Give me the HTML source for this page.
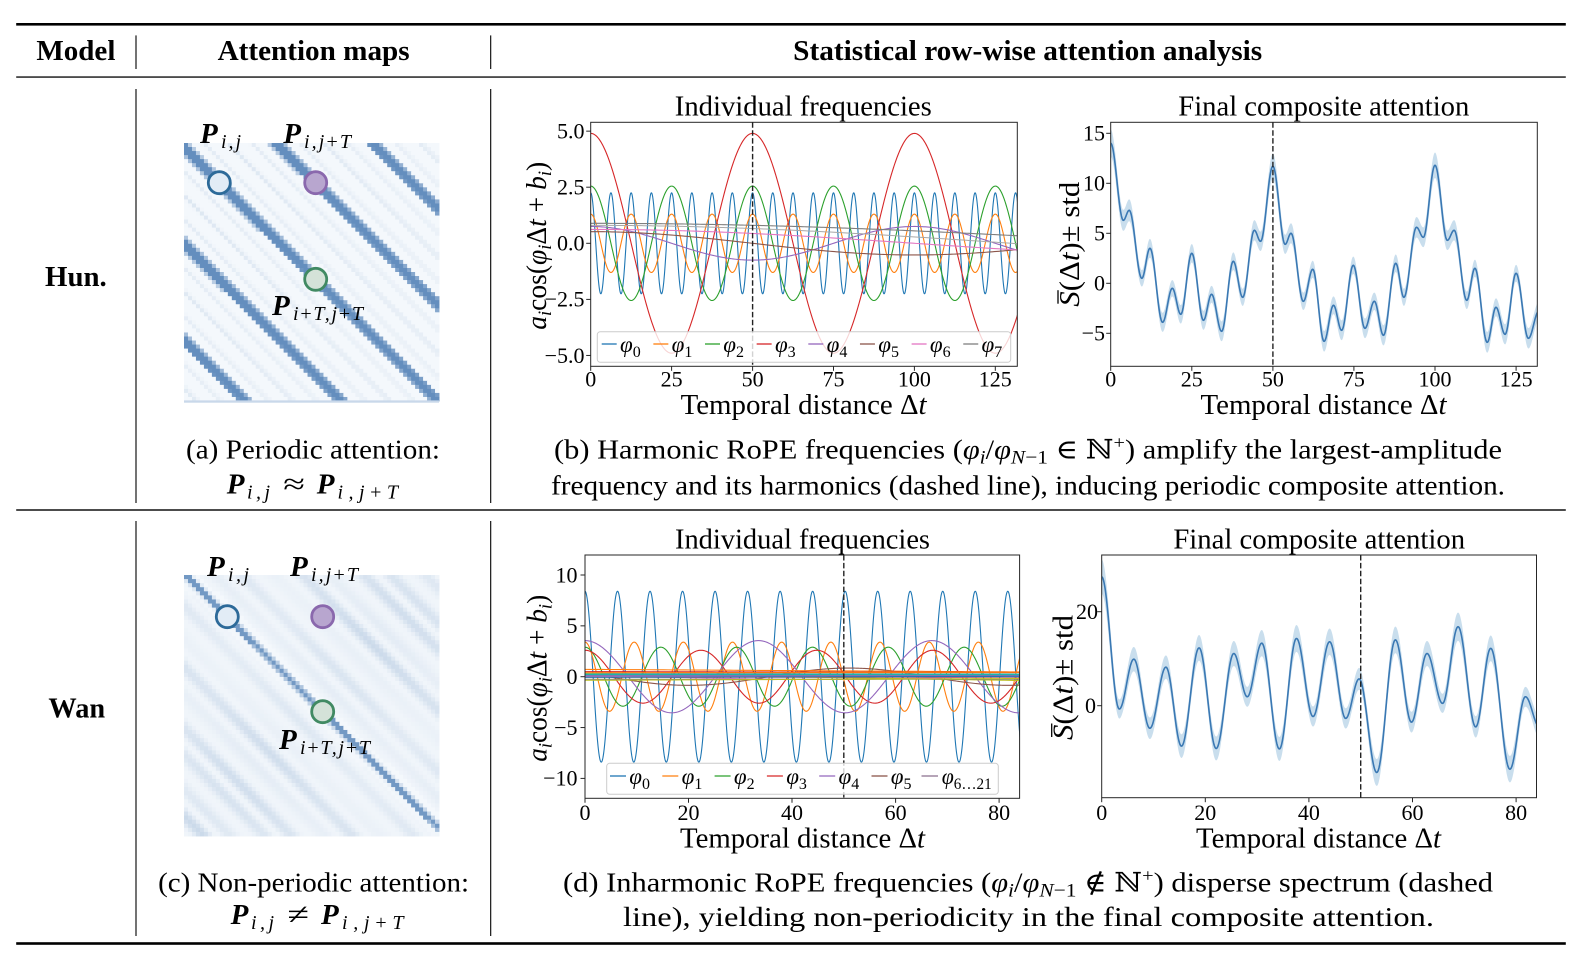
<!DOCTYPE html>
<html><head><meta charset="utf-8">
<style>
html,body{margin:0;padding:0;background:#fff;}
svg{display:block;}
text{font-family:"Liberation Serif","DejaVu Serif",serif;fill:#000;}
.b{font-weight:bold;}
.i{font-style:italic;}
.tk{font-size:22px;}
.P{font-weight:bold;font-style:italic;font-size:29px;}
.sb{font-style:italic;font-size:20px;}
</style></head><body>
<svg id="s" xmlns="http://www.w3.org/2000/svg" width="1586" height="968" viewBox="0 0 1586 968">
<defs>
<clipPath id="cA"><rect x="590.7" y="122.3" width="426.6" height="244"/></clipPath>
<clipPath id="cB"><rect x="1110.7" y="122.3" width="426.6" height="244"/></clipPath>
<clipPath id="cC"><rect x="585" y="555" width="434.6" height="243.3"/></clipPath>
<clipPath id="cD"><rect x="1101.7" y="555" width="434.8" height="242.7"/></clipPath>
</defs>
<rect x="0" y="0" width="1586" height="968" fill="#fff"/>

<!-- table rules -->
<rect x="16.2" y="23" width="1549.6" height="2.6" fill="#000"/>
<rect x="16.2" y="76.4" width="1549.6" height="1.3" fill="#000"/>
<rect x="16.2" y="509.3" width="1549.6" height="1.4" fill="#000"/>
<rect x="16.2" y="942.2" width="1549.6" height="2.6" fill="#000"/>
<g stroke="#000" stroke-width="1.1">
<line x1="136" y1="35.4" x2="136" y2="69"/>
<line x1="490.7" y1="35.4" x2="490.7" y2="69"/>
<line x1="136" y1="89" x2="136" y2="503"/>
<line x1="490.7" y1="89" x2="490.7" y2="503"/>
<line x1="136" y1="521" x2="136" y2="936"/>
<line x1="490.7" y1="521" x2="490.7" y2="936"/>
</g>

<!-- header -->
<text class="b" x="75.9" y="60" font-size="28" text-anchor="middle" textLength="79" lengthAdjust="spacingAndGlyphs">Model</text>
<text class="b" x="313.6" y="60" font-size="28" text-anchor="middle" textLength="192" lengthAdjust="spacingAndGlyphs">Attention maps</text>
<text class="b" x="1027.7" y="60" font-size="28" text-anchor="middle" textLength="469" lengthAdjust="spacingAndGlyphs">Statistical row-wise attention analysis</text>

<text class="b" x="75.9" y="286" font-size="28" text-anchor="middle" textLength="61.7" lengthAdjust="spacingAndGlyphs">Hun.</text>
<text class="b" x="76.8" y="717.5" font-size="28" text-anchor="middle" textLength="56.7" lengthAdjust="spacingAndGlyphs">Wan</text>

<!-- attention maps -->
<g id="mapA"></g>
<rect x="184" y="400.4" width="255" height="2.3" fill="#c9d8ea"/>
<g id="mapB"></g>

<circle cx="219.3" cy="182.7" r="11" fill="#e2ecf6" stroke="#2d6a99" stroke-width="2.8"/>
<circle cx="315.7" cy="182.7" r="11" fill="#b8a6cf" stroke="#8a68ad" stroke-width="2.8"/>
<circle cx="315.7" cy="279.3" r="11" fill="#d4e2d8" stroke="#418a63" stroke-width="2.8"/>
<circle cx="227.3" cy="616.7" r="11" fill="#e2ecf6" stroke="#2d6a99" stroke-width="2.8"/>
<circle cx="322.7" cy="616.7" r="11" fill="#b8a6cf" stroke="#8a68ad" stroke-width="2.8"/>
<circle cx="322.7" cy="711.7" r="11" fill="#d4e2d8" stroke="#418a63" stroke-width="2.8"/>

<!-- map labels (top) -->
<text class="P" x="200" y="143">P</text>
<text class="sb" x="221" y="148" textLength="20" lengthAdjust="spacing">i,j</text>
<text class="P" x="283.3" y="143">P</text>
<text class="sb" x="304" y="148" textLength="47" lengthAdjust="spacing">i,j<tspan font-style="normal">+</tspan>T</text>
<text class="P" x="272" y="315">P</text>
<text class="sb" x="293" y="320" textLength="70" lengthAdjust="spacing">i<tspan font-style="normal">+</tspan>T,j<tspan font-style="normal">+</tspan>T</text>
<!-- map labels (bottom) -->
<text class="P" x="207" y="576">P</text>
<text class="sb" x="228" y="581" textLength="21" lengthAdjust="spacing">i,j</text>
<text class="P" x="290" y="576">P</text>
<text class="sb" x="311" y="581" textLength="47" lengthAdjust="spacing">i,j<tspan font-style="normal">+</tspan>T</text>
<text class="P" x="279" y="749">P</text>
<text class="sb" x="300" y="754" textLength="70" lengthAdjust="spacing">i<tspan font-style="normal">+</tspan>T,j<tspan font-style="normal">+</tspan>T</text>

<!-- captions -->
<text x="313" y="458.3" font-size="27" text-anchor="middle" textLength="254" lengthAdjust="spacingAndGlyphs">(a) Periodic attention:</text>
<text class="P" x="226.7" y="493.3">P</text>
<text class="sb" x="247" y="498.3" textLength="23" lengthAdjust="spacing">i,j</text>
<text x="283.3" y="493.3" font-size="29" textLength="21.7" lengthAdjust="spacingAndGlyphs">≈</text>
<text class="P" x="316.7" y="493.3">P</text>
<text class="sb" x="337.5" y="498.3" textLength="60.5" lengthAdjust="spacing">i,j<tspan font-style="normal">+</tspan>T</text>

<text x="1028" y="458.3" font-size="27" text-anchor="middle" textLength="948" lengthAdjust="spacingAndGlyphs">(b) Harmonic RoPE frequencies (<tspan class="i">φ</tspan><tspan class="i" font-size="19" dy="5">i</tspan><tspan dy="-5">/</tspan><tspan class="i">φ</tspan><tspan class="i" font-size="19" dy="5">N</tspan><tspan font-size="19">−1</tspan><tspan dy="-5"> ∈ ℕ</tspan><tspan font-size="18" dy="-10">+</tspan><tspan dy="10">) amplify the largest-amplitude</tspan></text>
<text x="1028" y="494.3" font-size="27" text-anchor="middle" textLength="954" lengthAdjust="spacingAndGlyphs">frequency and its harmonics (dashed line), inducing periodic composite attention.</text>

<text x="313.6" y="891.3" font-size="27" text-anchor="middle" textLength="311" lengthAdjust="spacingAndGlyphs">(c) Non-periodic attention:</text>
<text class="P" x="230.6" y="924.2">P</text>
<text class="sb" x="251" y="929.2" textLength="23" lengthAdjust="spacing">i,j</text>
<text x="287.5" y="924.2" font-size="29" textLength="21.7" lengthAdjust="spacingAndGlyphs">≠</text>
<text class="P" x="321" y="924.2">P</text>
<text class="sb" x="342" y="929.2" textLength="61.5" lengthAdjust="spacing">i,j<tspan font-style="normal">+</tspan>T</text>

<text x="1028" y="891.3" font-size="27" text-anchor="middle" textLength="930" lengthAdjust="spacingAndGlyphs">(d) Inharmonic RoPE frequencies (<tspan class="i">φ</tspan><tspan class="i" font-size="19" dy="5">i</tspan><tspan dy="-5">/</tspan><tspan class="i">φ</tspan><tspan class="i" font-size="19" dy="5">N</tspan><tspan font-size="19">−1</tspan><tspan dy="-5"> ∉ ℕ</tspan><tspan font-size="18" dy="-10">+</tspan><tspan dy="10">) disperse spectrum (dashed</tspan></text>
<text x="1028.5" y="926.2" font-size="27" text-anchor="middle" textLength="811" lengthAdjust="spacingAndGlyphs">line), yielding non-periodicity in the final composite attention.</text>

<!-- ================= PLOT A ================= -->
<g id="gA" clip-path="url(#cA)"></g>
<line x1="752.6" y1="122.3" x2="752.6" y2="366.3" stroke="#222" stroke-width="1.4" stroke-dasharray="5.5,2.4"/>
<rect x="590.7" y="122.3" width="426.6" height="244" fill="none" stroke="#262626" stroke-width="1"/>
<g stroke="#262626" stroke-width="1">
<line x1="590.7" y1="366.3" x2="590.7" y2="370.8"/><line x1="671.6" y1="366.3" x2="671.6" y2="370.8"/><line x1="752.6" y1="366.3" x2="752.6" y2="370.8"/><line x1="833.5" y1="366.3" x2="833.5" y2="370.8"/><line x1="914.4" y1="366.3" x2="914.4" y2="370.8"/><line x1="995.3" y1="366.3" x2="995.3" y2="370.8"/>
<line x1="586.2" y1="131.15" x2="590.7" y2="131.15"/><line x1="586.2" y1="187.2" x2="590.7" y2="187.2"/><line x1="586.2" y1="243.3" x2="590.7" y2="243.3"/><line x1="586.2" y1="299.4" x2="590.7" y2="299.4"/><line x1="586.2" y1="355.45" x2="590.7" y2="355.45"/>
</g>
<g class="tk" text-anchor="middle">
<text x="590.7" y="386.7">0</text><text x="671.6" y="386.7">25</text><text x="752.6" y="386.7">50</text><text x="833.5" y="386.7">75</text><text x="914.4" y="386.7">100</text><text x="995.3" y="386.7">125</text>
</g>
<g class="tk" text-anchor="end">
<text x="584.5" y="138.5">5.0</text><text x="584.5" y="194.5">2.5</text><text x="584.5" y="250.6">0.0</text><text x="584.5" y="306.7">−2.5</text><text x="584.5" y="362.8">−5.0</text>
</g>
<text x="803.3" y="115.7" font-size="28" text-anchor="middle" textLength="257" lengthAdjust="spacingAndGlyphs">Individual frequencies</text>
<text x="803.6" y="414" font-size="28" text-anchor="middle" textLength="246" lengthAdjust="spacingAndGlyphs">Temporal distance Δ<tspan class="i">t</tspan></text>
<text transform="translate(546,245.8) rotate(-90)" font-size="28" text-anchor="middle" textLength="168" lengthAdjust="spacingAndGlyphs"><tspan class="i">a</tspan><tspan class="i" font-size="19" dy="5">i</tspan><tspan dy="-5">cos(</tspan><tspan class="i">φ</tspan><tspan class="i" font-size="19" dy="5">i</tspan><tspan dy="-5">Δ</tspan><tspan class="i">t</tspan><tspan> + </tspan><tspan class="i">b</tspan><tspan class="i" font-size="19" dy="5">i</tspan><tspan dy="-5">)</tspan></text>
<!-- legend A -->
<rect x="597.3" y="331.7" width="413.4" height="30.6" rx="3" fill="#fff" fill-opacity="0.8" stroke="#cccccc" stroke-width="1"/>
<g stroke-width="1.3">
<line x1="601.7" y1="344" x2="616.7" y2="344" stroke="#1f77b4"/>
<line x1="653.35" y1="344" x2="668.35" y2="344" stroke="#ff7f0e"/>
<line x1="705" y1="344" x2="720" y2="344" stroke="#2ca02c"/>
<line x1="756.65" y1="344" x2="771.65" y2="344" stroke="#d62728"/>
<line x1="808.3" y1="344" x2="823.3" y2="344" stroke="#9467bd"/>
<line x1="859.95" y1="344" x2="874.95" y2="344" stroke="#8c564b"/>
<line x1="911.6" y1="344" x2="926.6" y2="344" stroke="#e377c2"/>
<line x1="963.25" y1="344" x2="978.25" y2="344" stroke="#7f7f7f"/>
</g>
<g font-size="23">
<text x="620" y="352"><tspan class="i">φ</tspan><tspan font-size="16" dy="5">0</tspan></text>
<text x="671.65" y="352"><tspan class="i">φ</tspan><tspan font-size="16" dy="5">1</tspan></text>
<text x="723.3" y="352"><tspan class="i">φ</tspan><tspan font-size="16" dy="5">2</tspan></text>
<text x="774.95" y="352"><tspan class="i">φ</tspan><tspan font-size="16" dy="5">3</tspan></text>
<text x="826.6" y="352"><tspan class="i">φ</tspan><tspan font-size="16" dy="5">4</tspan></text>
<text x="878.25" y="352"><tspan class="i">φ</tspan><tspan font-size="16" dy="5">5</tspan></text>
<text x="929.9" y="352"><tspan class="i">φ</tspan><tspan font-size="16" dy="5">6</tspan></text>
<text x="981.55" y="352"><tspan class="i">φ</tspan><tspan font-size="16" dy="5">7</tspan></text>
</g>

<!-- ================= PLOT B ================= -->
<g id="gB" clip-path="url(#cB)"></g>
<line x1="1272.9" y1="122.3" x2="1272.9" y2="366.3" stroke="#222" stroke-width="1.4" stroke-dasharray="5.5,2.4"/>
<rect x="1110.7" y="122.3" width="426.6" height="244" fill="none" stroke="#262626" stroke-width="1"/>
<g stroke="#262626" stroke-width="1">
<line x1="1110.7" y1="366.3" x2="1110.7" y2="370.8"/><line x1="1191.8" y1="366.3" x2="1191.8" y2="370.8"/><line x1="1272.9" y1="366.3" x2="1272.9" y2="370.8"/><line x1="1353.9" y1="366.3" x2="1353.9" y2="370.8"/><line x1="1435" y1="366.3" x2="1435" y2="370.8"/><line x1="1516.1" y1="366.3" x2="1516.1" y2="370.8"/>
<line x1="1106.2" y1="133.3" x2="1110.7" y2="133.3"/><line x1="1106.2" y1="183.3" x2="1110.7" y2="183.3"/><line x1="1106.2" y1="233.3" x2="1110.7" y2="233.3"/><line x1="1106.2" y1="283.3" x2="1110.7" y2="283.3"/><line x1="1106.2" y1="333.3" x2="1110.7" y2="333.3"/>
</g>
<g class="tk" text-anchor="middle">
<text x="1110.7" y="386.7">0</text><text x="1191.8" y="386.7">25</text><text x="1272.9" y="386.7">50</text><text x="1353.9" y="386.7">75</text><text x="1435" y="386.7">100</text><text x="1516.1" y="386.7">125</text>
</g>
<g class="tk" text-anchor="end">
<text x="1105" y="140.6">15</text><text x="1105" y="190.6">10</text><text x="1105" y="240.6">5</text><text x="1105" y="290.6">0</text><text x="1105" y="340.6">−5</text>
</g>
<text x="1323.8" y="115.7" font-size="28" text-anchor="middle" textLength="291" lengthAdjust="spacingAndGlyphs">Final composite attention</text>
<text x="1323.5" y="414" font-size="28" text-anchor="middle" textLength="246" lengthAdjust="spacingAndGlyphs">Temporal distance Δ<tspan class="i">t</tspan></text>
<g transform="translate(1079,244.2) rotate(-90)">
<text x="0" y="0" font-size="28" text-anchor="middle" textLength="125" lengthAdjust="spacingAndGlyphs"><tspan class="i">S</tspan>(Δ<tspan class="i">t</tspan>)± std</text>
<line x1="-59.5" y1="-21" x2="-46" y2="-21" stroke="#000" stroke-width="1.3"/>
</g>

<!-- ================= PLOT C ================= -->
<g id="gC" clip-path="url(#cC)"></g>
<line x1="843.8" y1="555" x2="843.8" y2="798.3" stroke="#222" stroke-width="1.4" stroke-dasharray="5.5,2.4"/>
<rect x="585" y="555" width="434.6" height="243.3" fill="none" stroke="#262626" stroke-width="1"/>
<g stroke="#262626" stroke-width="1">
<line x1="585" y1="798.3" x2="585" y2="802.8"/><line x1="688.5" y1="798.3" x2="688.5" y2="802.8"/><line x1="792" y1="798.3" x2="792" y2="802.8"/><line x1="895.6" y1="798.3" x2="895.6" y2="802.8"/><line x1="999.1" y1="798.3" x2="999.1" y2="802.8"/>
<line x1="580.5" y1="575" x2="585" y2="575"/><line x1="580.5" y1="625.85" x2="585" y2="625.85"/><line x1="580.5" y1="676.7" x2="585" y2="676.7"/><line x1="580.5" y1="727.55" x2="585" y2="727.55"/><line x1="580.5" y1="778.4" x2="585" y2="778.4"/>
</g>
<g class="tk" text-anchor="middle">
<text x="585" y="820">0</text><text x="688.5" y="820">20</text><text x="792" y="820">40</text><text x="895.6" y="820">60</text><text x="999.1" y="820">80</text>
</g>
<g class="tk" text-anchor="end">
<text x="577.5" y="582.3">10</text><text x="577.5" y="633.2">5</text><text x="577.5" y="684">0</text><text x="577.5" y="734.9">−5</text><text x="577.5" y="785.7">−10</text>
</g>
<text x="802.5" y="548.3" font-size="28" text-anchor="middle" textLength="255" lengthAdjust="spacingAndGlyphs">Individual frequencies</text>
<text x="802.5" y="847.3" font-size="28" text-anchor="middle" textLength="245" lengthAdjust="spacingAndGlyphs">Temporal distance Δ<tspan class="i">t</tspan></text>
<text transform="translate(546.7,678.3) rotate(-90)" font-size="28" text-anchor="middle" textLength="167" lengthAdjust="spacingAndGlyphs"><tspan class="i">a</tspan><tspan class="i" font-size="19" dy="5">i</tspan><tspan dy="-5">cos(</tspan><tspan class="i">φ</tspan><tspan class="i" font-size="19" dy="5">i</tspan><tspan dy="-5">Δ</tspan><tspan class="i">t</tspan><tspan> + </tspan><tspan class="i">b</tspan><tspan class="i" font-size="19" dy="5">i</tspan><tspan dy="-5">)</tspan></text>
<!-- legend C -->
<rect x="606.7" y="763.3" width="391.6" height="31" rx="3" fill="#fff" fill-opacity="0.8" stroke="#cccccc" stroke-width="1"/>
<g stroke-width="1.3">
<line x1="610" y1="776" x2="626" y2="776" stroke="#1f77b4"/>
<line x1="662.3" y1="776" x2="678.3" y2="776" stroke="#ff7f0e"/>
<line x1="714.6" y1="776" x2="730.6" y2="776" stroke="#2ca02c"/>
<line x1="766.9" y1="776" x2="782.9" y2="776" stroke="#d62728"/>
<line x1="819.2" y1="776" x2="835.2" y2="776" stroke="#9467bd"/>
<line x1="871.5" y1="776" x2="887.5" y2="776" stroke="#8c564b"/>
<line x1="921.5" y1="776" x2="938" y2="776" stroke="#8a6f8e"/>
</g>
<g font-size="23">
<text x="629.3" y="784"><tspan class="i">φ</tspan><tspan font-size="16" dy="5">0</tspan></text>
<text x="681.6" y="784"><tspan class="i">φ</tspan><tspan font-size="16" dy="5">1</tspan></text>
<text x="733.9" y="784"><tspan class="i">φ</tspan><tspan font-size="16" dy="5">2</tspan></text>
<text x="786.2" y="784"><tspan class="i">φ</tspan><tspan font-size="16" dy="5">3</tspan></text>
<text x="838.5" y="784"><tspan class="i">φ</tspan><tspan font-size="16" dy="5">4</tspan></text>
<text x="890.8" y="784"><tspan class="i">φ</tspan><tspan font-size="16" dy="5">5</tspan></text>
<text x="941.7" y="784" textLength="50" lengthAdjust="spacingAndGlyphs"><tspan class="i">φ</tspan><tspan font-size="16" dy="5">6…21</tspan></text>
</g>

<!-- ================= PLOT D ================= -->
<g id="gD" clip-path="url(#cD)"></g>
<line x1="1360.7" y1="555" x2="1360.7" y2="797.7" stroke="#222" stroke-width="1.4" stroke-dasharray="5.5,2.4"/>
<rect x="1101.7" y="555" width="434.8" height="242.7" fill="none" stroke="#262626" stroke-width="1"/>
<g stroke="#262626" stroke-width="1">
<line x1="1101.7" y1="797.7" x2="1101.7" y2="802.2"/><line x1="1205.3" y1="797.7" x2="1205.3" y2="802.2"/><line x1="1308.9" y1="797.7" x2="1308.9" y2="802.2"/><line x1="1412.5" y1="797.7" x2="1412.5" y2="802.2"/><line x1="1516.1" y1="797.7" x2="1516.1" y2="802.2"/>
<line x1="1097.2" y1="611.7" x2="1101.7" y2="611.7"/><line x1="1097.2" y1="705.7" x2="1101.7" y2="705.7"/>
</g>
<g class="tk" text-anchor="middle">
<text x="1101.7" y="820">0</text><text x="1205.3" y="820">20</text><text x="1308.9" y="820">40</text><text x="1412.5" y="820">60</text><text x="1516.1" y="820">80</text>
</g>
<g class="tk" text-anchor="end">
<text x="1098" y="619">20</text><text x="1096" y="713">0</text>
</g>
<text x="1319.2" y="548.3" font-size="28" text-anchor="middle" textLength="291.7" lengthAdjust="spacingAndGlyphs">Final composite attention</text>
<text x="1318.5" y="847.3" font-size="28" text-anchor="middle" textLength="245" lengthAdjust="spacingAndGlyphs">Temporal distance Δ<tspan class="i">t</tspan></text>
<g transform="translate(1072.7,677.5) rotate(-90)">
<text x="0" y="0" font-size="28" text-anchor="middle" textLength="125" lengthAdjust="spacingAndGlyphs"><tspan class="i">S</tspan>(Δ<tspan class="i">t</tspan>)± std</text>
<line x1="-59.5" y1="-21" x2="-46" y2="-21" stroke="#000" stroke-width="1.3"/>
</g>
</svg>

<script>
(function(){
const NS='http://www.w3.org/2000/svg';
function el(tag,attrs,parent){const e=document.createElementNS(NS,tag);for(const k in attrs)e.setAttribute(k,attrs[k]);parent.appendChild(e);return e;}

/* ---------- attention maps ---------- */
function drawMap(gid,x,y,w,h,n,fn){
  const g=document.getElementById(gid);
  const cw=w/n,ch=h/n;
  for(let r=0;r<n;r++)for(let c=0;c<n;c++){
    const px=(c+0.5)*cw,py=(r+0.5)*ch;
    let I=Math.max(0,Math.min(1,fn(px,py)));
    const R=Math.round(247+(100-247)*I),G=Math.round(250+(142-250)*I),B=Math.round(253+(190-253)*I);
    el('rect',{x:(x+c*cw).toFixed(2),y:(y+r*ch).toFixed(2),width:(cw+0.45).toFixed(2),height:(ch+0.45).toFixed(2),fill:'rgb('+R+','+G+','+B+')'},g);
  }
}
function topI(px,py){
  const s=(px-py)+4.4;
  let m=((s%96.3)+96.3)%96.3; if(m>48.15)m-=96.3;
  const a=Math.abs(m);
  let I=0.02;
  if(a<4.6)I=1; else if(a<8.6)I=Math.max(I,1-(a-4.6)/4*0.6);
  const rid=[[24.1,0.13],[48.15,0.17]];
  for(const [c,v] of rid){const b=Math.abs(a-c); if(b<5)I=Math.max(I,v*(1-b/5));}
  return I;
}
function botI(px,py){
  const s=(px-py)-1.6,a=Math.abs(s),u=px+py;
  let core=0;
  if(a<3.2)core=0.9; else if(a<7)core=0.9*(7-a)/3.8*0.65;
  const amp=0.10+0.17*Math.min(1,a/130);
  let tex=0.045+amp*(0.5+0.5*Math.cos(2*Math.PI*s/30+0.7))*(0.6+0.4*Math.cos(2*Math.PI*s/71+2.1))*(0.85+0.15*Math.cos(2*Math.PI*u/260));
  if(a<14)tex*=0.4;
  return Math.max(core,tex);
}
drawMap('mapA',184,143,255,258,64,topI);
drawMap('mapB',184,575,255,261,64,botI);

/* ---------- curves ---------- */
function line(gid,P,f,tmax,color,lw,n){
  const g=document.getElementById(gid);
  let d='';
  for(let k=0;k<=n;k++){const t=tmax*k/n;const v=f(t);d+=(k?'L':'M')+(P.x0+t*P.sx).toFixed(2)+' '+(P.y0-v*P.sy).toFixed(2);}
  el('path',{d:d,fill:'none',stroke:color,'stroke-width':lw,'stroke-linejoin':'round'},g);
}
function interp(pts){
  return function(t){
    for(let i=0;i<pts.length-1;i++){const a=pts[i][0],va=pts[i][1],b=pts[i+1][0],vb=pts[i+1][1];
      if(t>=a&&t<=b){const s=(t-a)/(b-a);return va+(vb-va)*(1-Math.cos(Math.PI*s))/2;}}
    return pts[pts.length-1][1];
  };
}
function comp(gid,P,pts,tmax,wf){
  const g=document.getElementById(gid);const f=interp(pts);const n=1400;
  const up=[],lo=[];let mid='';
  for(let k=0;k<=n;k++){const t=tmax*k/n;const v=f(t);const w=wf(v);const X=(P.x0+t*P.sx).toFixed(2);
    up.push(X+' '+(P.y0-(v+w)*P.sy).toFixed(2));lo.push(X+' '+(P.y0-(v-w)*P.sy).toFixed(2));
    mid+=(k?'L':'M')+X+' '+(P.y0-v*P.sy).toFixed(2);}
  el('path',{d:'M'+up.join('L')+'L'+lo.reverse().join('L')+'Z',fill:'#1f77b4','fill-opacity':'0.24',stroke:'none'},g);
  el('path',{d:mid,fill:'none',stroke:'#3a78b3','stroke-width':1.6,'stroke-linejoin':'round'},g);
}
const TAU=2*Math.PI;
const C=['#1f77b4','#ff7f0e','#2ca02c','#d62728','#9467bd','#8c564b','#e377c2','#7f7f7f','#bcbd22','#17becf'];

/* Plot A */
const PA={x0:590.7,sx:3.237,y0:243.3,sy:22.43},TA=132;
line('gA',PA,t=>2.25*Math.cos(TAU*t/6.25),TA,C[0],1.1,2000);
line('gA',PA,t=>1.3*Math.cos(TAU*t/12.5),TA,C[1],1.1,1200);
line('gA',PA,t=>2.55*Math.cos(TAU*t/25),TA,C[2],1.1,800);
line('gA',PA,t=>4.9*Math.cos(TAU*t/50),TA,C[3],1.1,600);
line('gA',PA,t=>0.75*Math.cos(TAU*t/100),TA,C[4],1.1,300);
line('gA',PA,t=>0.52*Math.cos(TAU*t/200),TA,C[5],1.1,200);
line('gA',PA,t=>0.62*Math.cos(TAU*t/400),TA,C[6],1.1,200);
line('gA',PA,t=>0.89*Math.cos(TAU*t/700),TA,C[7],1.1,200);
line('gA',PA,t=>0.8*Math.cos(TAU*t/520),TA,'#a8a8a8',1.0,200);

/* Plot B */
const PB={x0:1110.7,sx:3.243,y0:283.3,sy:10};
const ptsB=[[0,14],[3.9,6.3],[5.7,7.3],[9.6,0.5],[12.1,3.5],[16,-3.9],[19,-0.5],[21.6,-3.1],[25,3],[28.6,-3.7],[31.1,-1.1],[34.2,-4.8],[37.8,2.2],[40.7,-1.4],[44.3,5.3],[46.2,4.2],[50,11.7],[53.8,3.9],[55.6,5],[59.4,-1.8],[62.3,1.4],[65.8,-5.8],[68.7,-2.2],[71.2,-4.7],[74.8,1.8],[78.4,-4.5],[81.3,-1.8],[84.1,-5.2],[87.9,2],[90.4,-1.4],[94.3,5.6],[96.4,4.6],[100,11.8],[103.8,4.3],[105.9,5.3],[109.8,-1.7],[112.3,1.5],[116.1,-5.9],[118.8,-2.4],[121.6,-5.1],[125,1],[128.8,-5.5],[132,-2.8]];
comp('gB',PB,ptsB,132,v=>0.8+0.04*Math.abs(v));

/* Plot C */
const PC={x0:585,sx:5.176,y0:676.7,sy:10.17},TC=84.5;
line('gC',PC,t=>8.4*Math.cos(t),TC,C[0],1.1,1600);
line('gC',PC,t=>3.4*Math.cos(TAU*t/9.5),TC,C[1],1.1,1000);
line('gC',PC,t=>2.9*Math.cos(TAU*t/14.65),TC,C[2],1.1,800);
line('gC',PC,t=>2.6*Math.cos(TAU*t/22.4),TC,C[3],1.1,600);
line('gC',PC,t=>3.55*Math.cos(TAU*t/33.5),TC,C[4],1.1,600);
line('gC',PC,t=>0.85*Math.cos(TAU*(t-51)/62),TC,C[5],1.1,400);
const flat=[
 [C[6],t=>-0.12+0.15*Math.cos(TAU*t/90)],
 [C[7],t=>0.35+0.0006*t],
 [C[8],t=>0.3-0.008*t],
 [C[9],t=>0.15],
 [C[0],t=>0.05],
 [C[1],t=>0.72-0.003*t],
 [C[2],t=>0.2],
 [C[3],t=>0.5-0.001*t],
 [C[4],t=>0.1],
 [C[5],t=>-0.05],
 [C[6],t=>0.0],
 [C[7],t=>-0.25],
 [C[8],t=>-0.35+0.002*t],
 [C[9],t=>0.25],
 [C[0],t=>-0.05+0.001*t],
 [C[1],t=>0.4]
];
for(const [c,f] of flat) line('gC',PC,f,TC,c,1.1,100);

/* Plot D */
const PD={x0:1101.7,sx:5.18,y0:705.7,sy:4.7};
const ptsD=[[0,27.4],[3.4,-0.7],[6.2,9.9],[9.3,-4.8],[12.4,8.2],[15.4,-8.6],[18.8,12.3],[22.1,-9.1],[25.5,11.1],[28.1,1.9],[30.9,13.3],[34.3,-9.2],[37.6,14.3],[40.8,-2.3],[44,13.6],[47.1,-2.7],[49.7,5.7],[53.1,-14.2],[56.7,14],[59.8,-3.5],[62.8,11.1],[65.8,0.5],[68.8,16.8],[72.2,-4.5],[75.1,12.2],[78.8,-13.5],[81.8,1.9],[84.5,-4.5]];
comp('gD',PD,ptsD,84.5,v=>2.0+0.06*Math.abs(v));
})();
</script>
</body></html>
